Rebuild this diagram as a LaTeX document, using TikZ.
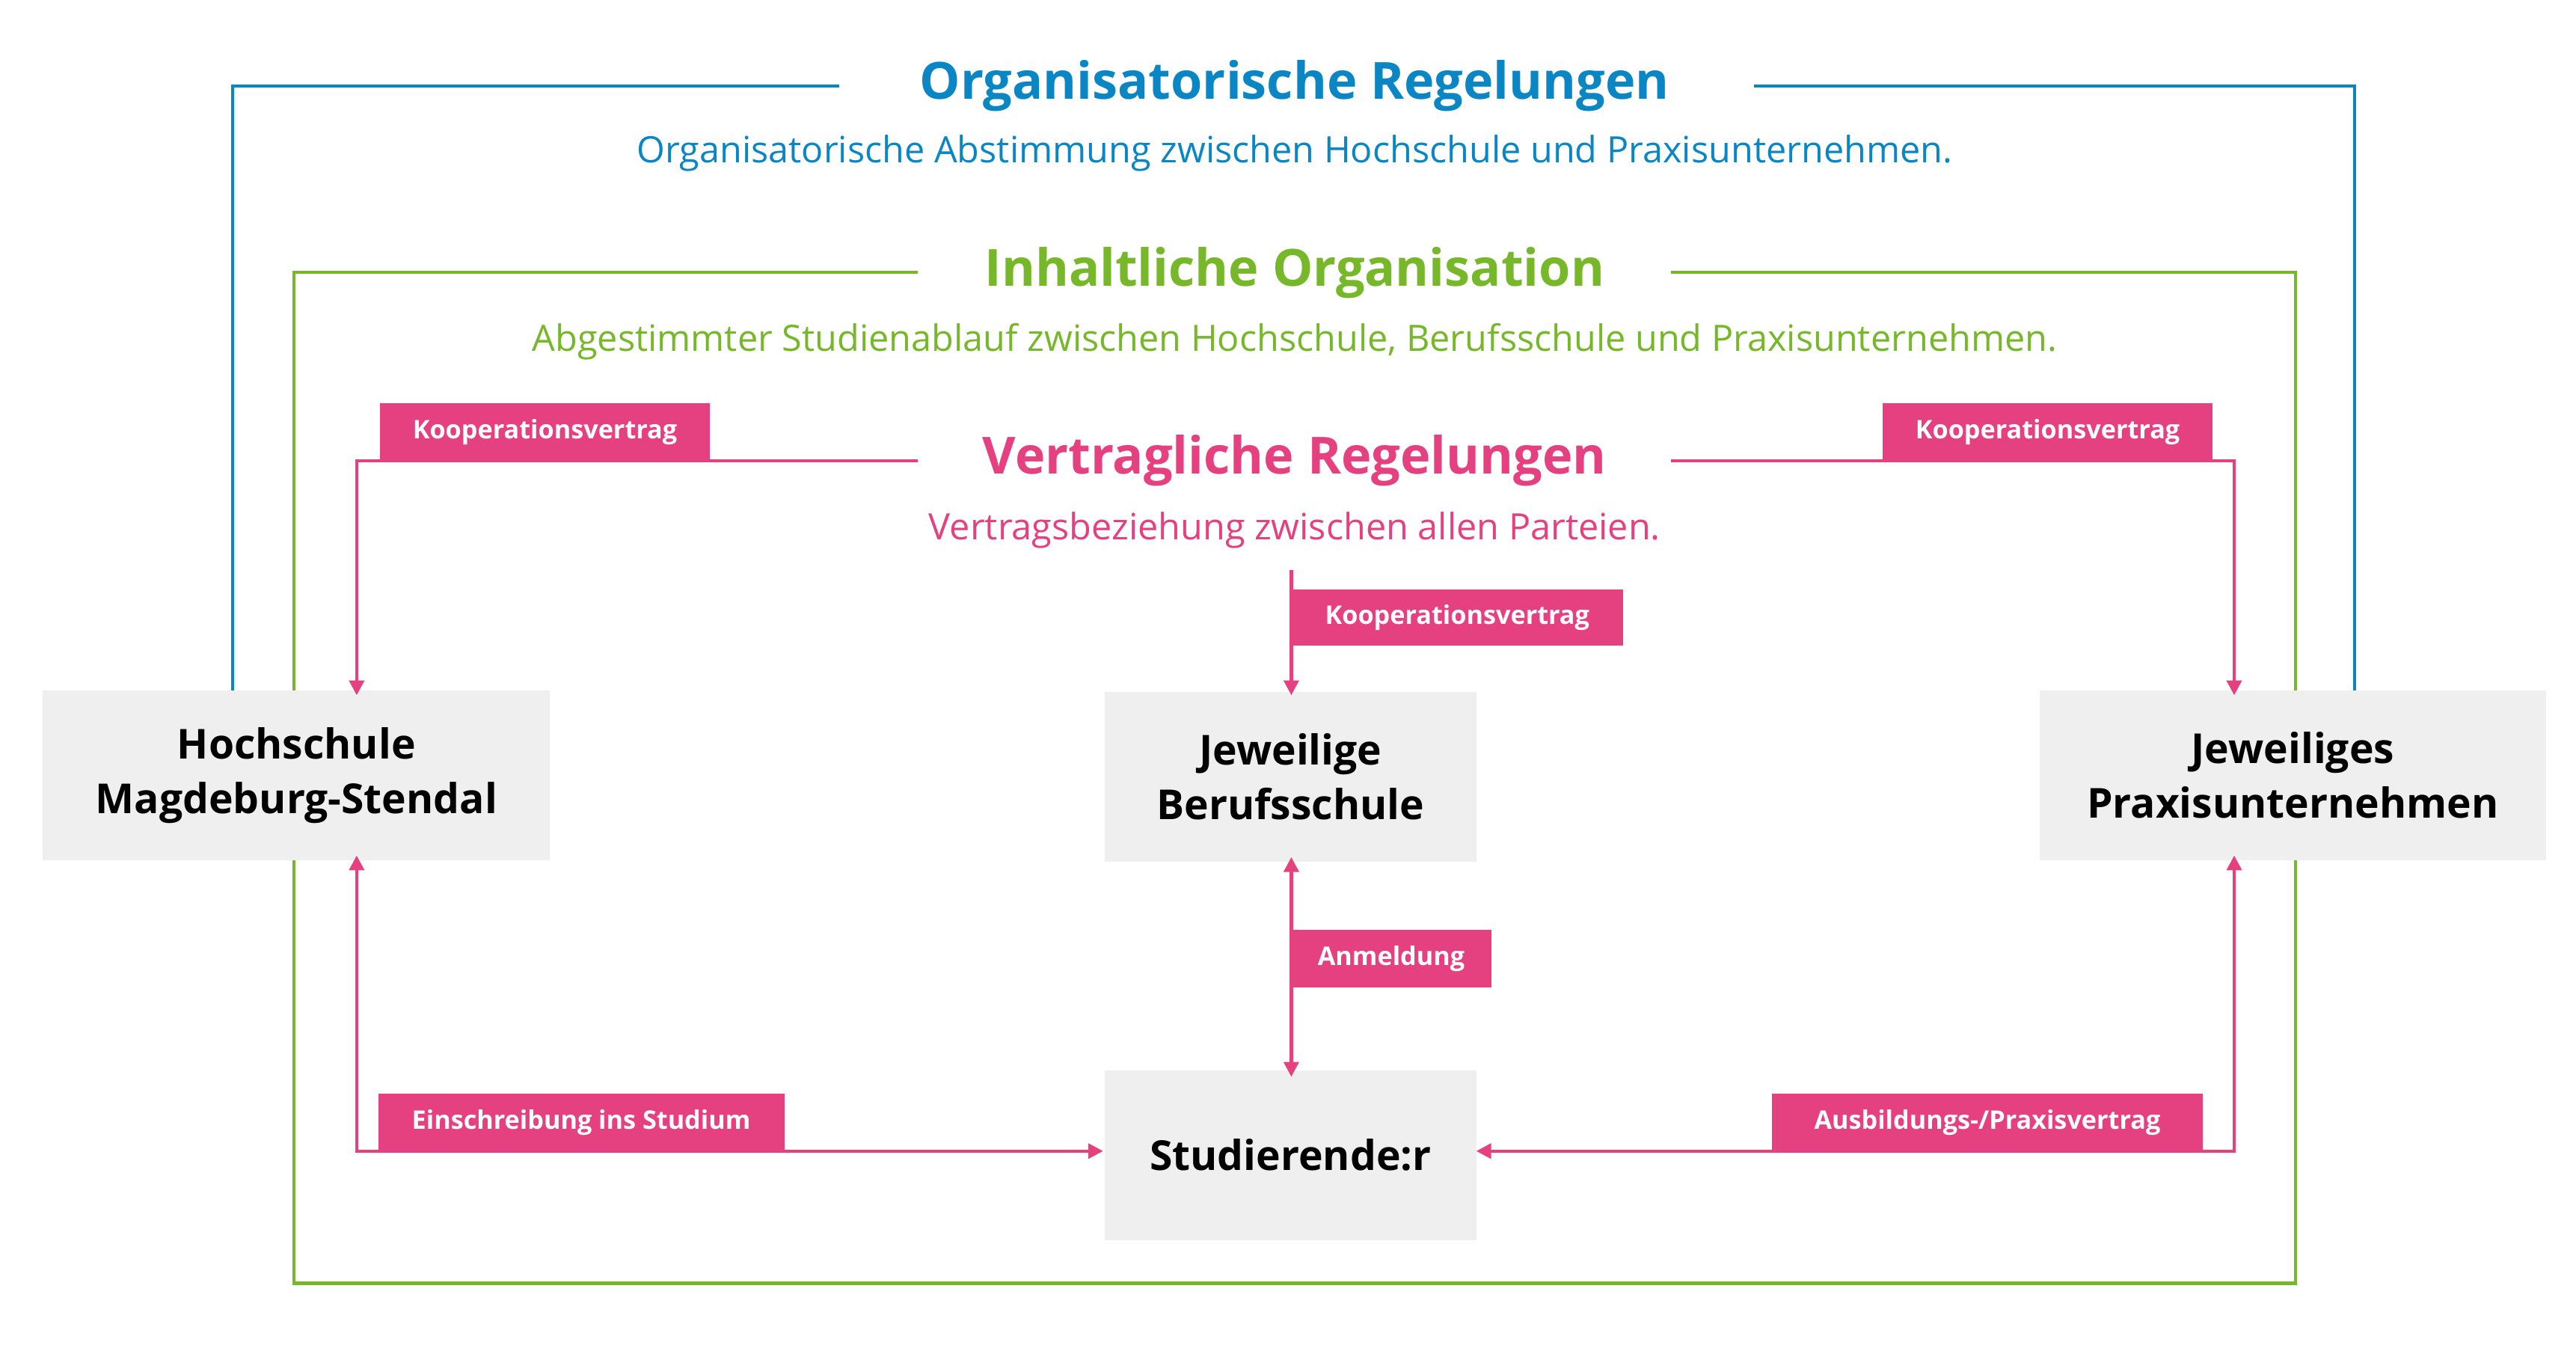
\documentclass[tikz,border=0pt]{standalone}
\usepackage{fontspec}
\setmainfont{Open Sans}
\usetikzlibrary{arrows.meta}
\definecolor{cblue}{HTML}{0A86C4}
\definecolor{cgreen}{HTML}{76B82A}
\definecolor{cpink}{HTML}{E5407F}
\definecolor{cgrey}{HTML}{EFEFEF}
\begin{document}
\begin{tikzpicture}[x=1pt,y=-1pt,
  box/.style={fill=cgrey,inner sep=0pt,align=center,font=\fontsize{25}{33}\selectfont\bfseries},
  lab/.style={fill=cpink,text=white,inner sep=0pt,font=\fontsize{15.5}{18}\selectfont\bfseries},
  pl/.style={cpink,line width=2pt},
  arr/.style={pl,-{Triangle[length=9pt,width=9pt]}},
  darr/.style={pl,{Triangle[length=9pt,width=9pt]}-{Triangle[length=9pt,width=9pt]}}]
\useasboundingbox (0,0) rectangle (1560,818);
% blue
\draw[cblue,line width=2pt] (508,52) -- (141,52) -- (141,418);
\draw[cblue,line width=2pt] (1062,52) -- (1426,52) -- (1426,418);
\node[text=cblue,font=\fontsize{31}{36}\selectfont\bfseries] (tb) at (784,52) {Organisatorische Regelungen};
\node[text=cblue,font=\fontsize{22}{26}\selectfont] (sb) at (784,93) {Organisatorische Abstimmung zwischen Hochschule und Praxisunternehmen.};
% green
\draw[cgreen,line width=2pt] (556,165) -- (178,165) -- (178,777) -- (1390,777) -- (1390,165) -- (1012,165);
\node[text=cgreen,font=\fontsize{31}{36}\selectfont\bfseries] (tg) at (784,165) {Inhaltliche Organisation};
\node[text=cgreen,font=\fontsize{22}{26}\selectfont] (sg) at (784,207) {Abgestimmter Studienablauf zwischen Hochschule, Berufsschule und Praxisunternehmen.};
% boxes
\node[box,minimum width=307pt,minimum height=103pt] (hs) at (179.5,469.5) {Hochschule\\Magdeburg-Stendal};
\node[box,minimum width=225pt,minimum height=103pt] (bs) at (781.5,470.5) {Jeweilige\\Berufsschule};
\node[box,minimum width=307pt,minimum height=103pt] (pu) at (1388.5,469.5) {Jeweiliges\\Praxisunternehmen};
\node[box,minimum width=225pt,minimum height=103pt] (st) at (781.5,699.5) {Studierende:r};
% pink
\node[text=cpink,font=\fontsize{31}{36}\selectfont\bfseries] (tp) at (784,279) {Vertragliche Regelungen};
\node[text=cpink,font=\fontsize{22}{26}\selectfont] (sp) at (784,321) {Vertragsbeziehung zwischen allen Parteien.};
\coordinate (pl1) at (556,279); \coordinate (pr1) at (1012,279);
\coordinate (pc) at (782,345);
\draw[arr] (pl1) -- (216,279) -- (216,421);
\draw[arr] (pr1) -- (1353,279) -- (1353,421);
\draw[arr] (pc) -- (782,421);
\draw[darr] (216,518) -- (216,697) -- (668,697);
\draw[darr] (782,519) -- (782,652);
\draw[darr] (1353,518) -- (1353,697) -- (894,697);
\node[lab,minimum width=200pt,minimum height=35pt] (k1) at (330,261.5) {Kooperationsvertrag};
\node[lab,minimum width=200pt,minimum height=35pt] (k2) at (1240,261.5) {Kooperationsvertrag};
\node[lab,minimum width=201pt,minimum height=34pt] (k3) at (882.5,374) {Kooperationsvertrag};
\node[lab,minimum width=121pt,minimum height=35pt] (an) at (842.5,580.5) {Anmeldung};
\node[lab,minimum width=246pt,minimum height=35pt] (es) at (352,679.5) {Einschreibung ins Studium};
\node[lab,minimum width=261pt,minimum height=35pt] (av) at (1203.5,679.5) {Ausbildungs-/Praxisvertrag};
\end{tikzpicture}
\end{document}
